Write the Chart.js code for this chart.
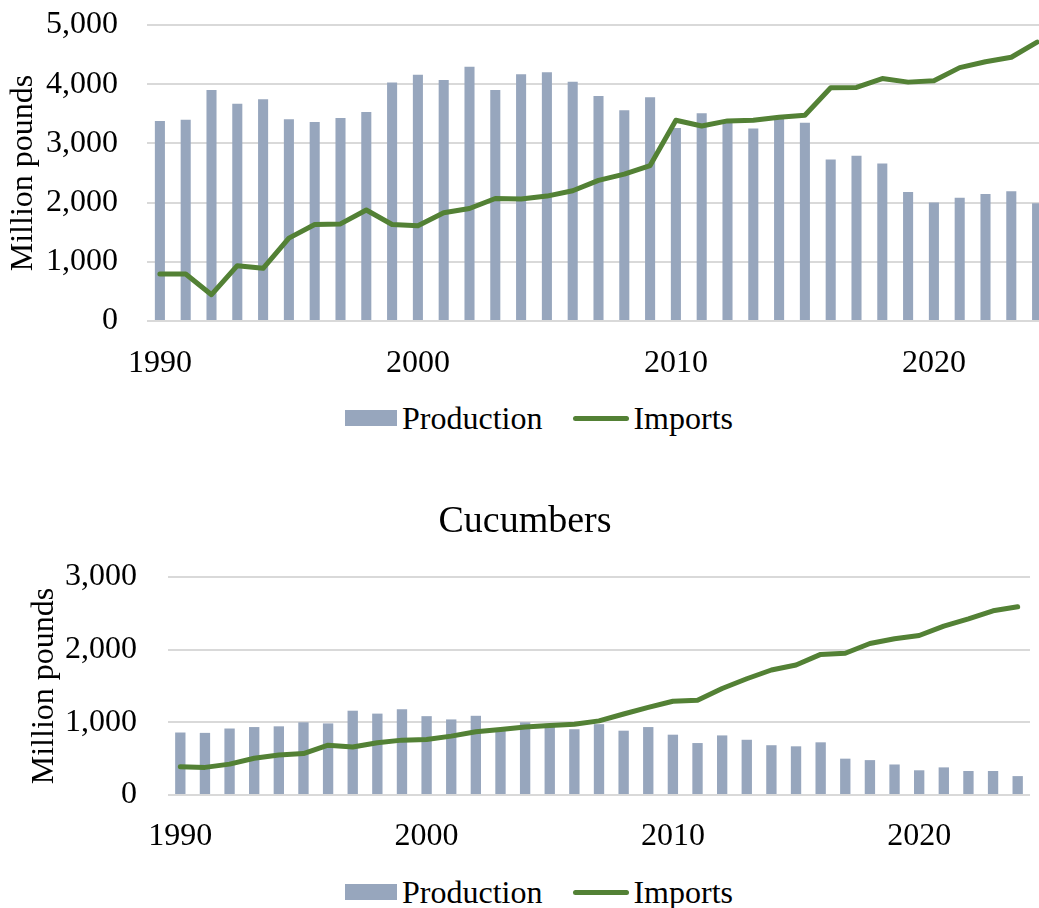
<!DOCTYPE html>
<html>
<head>
<meta charset="utf-8">
<script src="https://cdn.jsdelivr.net/npm/chart.js@4.4.1/dist/chart.umd.min.js"></script>
<style>
  html, body { margin: 0; padding: 0; background: #fff; }
  body { width: 1039px; height: 908px; overflow: hidden; position: relative; }
  #tomatoChart { position: absolute; left: 0; top: 0; }
  #cucumberChart { position: absolute; left: 20px; top: 480px; }
  .legend {
    position: absolute; left: 345px; height: 32px;
    display: flex; align-items: center;
    font-family: "Liberation Serif", "Times New Roman", serif; font-size: 32px; color: #000;
    white-space: nowrap;
  }
  .legend .item { display: flex; align-items: center; }
  .legend .item + .item { margin-left: 31px; }
  .legend .swatch-bar { width: 52px; height: 16px; margin-right: 5px; }
  .legend .swatch-line { width: 56px; height: 5px; border-radius: 3px; margin-right: 4px; }
</style>
</head>
<body>
<canvas id="tomatoChart" width="1060" height="380"></canvas>
<div class="legend" id="tomatoLegend" style="top: 402px;"></div>
<canvas id="cucumberChart" width="1019" height="374"></canvas>
<div class="legend" id="cucumberLegend" style="top: 876px;"></div>

<script>
// Years 1990-2024, million pounds
const years = [];
for (let y = 1990; y <= 2024; y++) years.push(String(y));

const tomatoProduction = [
  3380, 3400, 3900, 3670, 3745, 3410, 3360, 3430, 3530, 4030,
  4160, 4070, 4295, 3900, 4170, 4200, 4040, 3800, 3560, 3780,
  3260, 3510, 3350, 3250, 3420, 3350, 2730, 2790, 2660, 2180,
  2000, 2080, 2145, 2190, 1990
];
const tomatoImports = [
  795, 795, 444, 935, 890, 1400, 1630, 1640, 1875, 1630,
  1610, 1830, 1900, 2070, 2060, 2110, 2200, 2375, 2480, 2625,
  3390, 3295, 3380, 3390, 3440, 3475, 3940, 3945, 4095, 4035,
  4060, 4280, 4380, 4455, 4710
];

const cucumberProduction = [
  860, 855, 915, 935, 945, 1000, 985, 1160, 1120, 1180,
  1085, 1040, 1090, 900, 1000, 980, 905, 975, 885, 935,
  830, 715, 820, 760, 685, 670, 725, 500, 480, 420,
  340, 380, 330, 330, 260
];
const cucumberImports = [
  390, 380, 425, 505, 550, 570, 685, 660, 720, 755,
  765, 810, 870, 900, 935, 955, 975, 1020, 1115, 1205,
  1290, 1305, 1465, 1600, 1720, 1790, 1935, 1950, 2085, 2150,
  2195, 2325, 2425, 2535, 2590
];

const BAR_COLOR = '#97A6BD';
const LINE_COLOR = '#538135';
const GRID_COLOR = '#D9D9D9';
const FONT = '"Liberation Serif", "Times New Roman", serif';

Chart.defaults.font.family = FONT;
Chart.defaults.color = '#000';

function buildChart(canvasId, production, imports, cfg) {
  const ctx = document.getElementById(canvasId).getContext('2d');
  return new Chart(ctx, {
    type: 'bar',
    data: {
      labels: years,
      datasets: [
        {
          type: 'bar',
          label: 'Production',
          data: production,
          backgroundColor: BAR_COLOR,
          barPercentage: 1,
          categoryPercentage: cfg.barFraction,
          order: 2
        },
        {
          type: 'line',
          label: 'Imports',
          data: imports,
          borderColor: LINE_COLOR,
          backgroundColor: LINE_COLOR,
          borderWidth: cfg.lineWidth,
          borderJoinStyle: 'round',
          borderCapStyle: 'round',
          pointRadius: 0,
          tension: 0,
          order: 1
        }
      ]
    },
    options: {
      responsive: false,
      animation: false,
      layout: { padding: cfg.padding },
      plugins: {
        legend: { display: false },
        tooltip: { enabled: false },
        title: cfg.title ? {
          display: true,
          text: cfg.title,
          font: { size: 38, weight: 'normal' },
          color: '#000',
          padding: { top: 19, bottom: 32.4 }
        } : { display: false }
      },
      scales: {
        x: {
          grid: { display: false },
          border: { display: false },
          ticks: {
            autoSkip: false,
            maxRotation: 0,
            padding: cfg.xPad,
            font: { size: 32 },
            callback: function (val, idx) {
              const yr = Number(years[idx]);
              return yr % 10 === 0 ? String(yr) : '';
            }
          },
          afterFit: s => { s.height = cfg.xHeight; }
        },
        y: {
          min: 0,
          max: cfg.yMax,
          border: { display: false },
          grid: { color: GRID_COLOR, lineWidth: 2, drawTicks: false },
          ticks: {
            stepSize: 1000,
            padding: cfg.yPad,
            font: { size: 32 },
            callback: v => v.toLocaleString('en-US')
          },
          title: {
            display: true,
            text: 'Million pounds',
            font: { size: 32 },
            padding: { top: cfg.titlePad, bottom: 0 }
          },
          afterFit: s => {
            s.width = cfg.yWidth;
            // tick padding is horizontal spacing only; keep it out of the top margin
            s.paddingTop = 0;
          }
        }
      }
    }
  });
}

function buildLegend(elId) {
  const el = document.getElementById(elId);
  el.innerHTML =
    '<span class="item"><span class="swatch-bar" style="background:' + BAR_COLOR + '"></span>Production</span>' +
    '<span class="item"><span class="swatch-line" style="background:' + LINE_COLOR + '"></span>Imports</span>';
}

buildChart('tomatoChart', tomatoProduction, tomatoImports, {
  yMax: 5000, yWidth: 147, yPad: 29, xPad: 15, xHeight: 59, titlePad: 4,
  barFraction: 0.39, lineWidth: 5,
  padding: { top: 25, right: 10, left: 0, bottom: 0 }
});
buildLegend('tomatoLegend');

buildChart('cucumberChart', cucumberProduction, cucumberImports, {
  yMax: 3000, yWidth: 148, yPad: 31, xPad: 14, xHeight: 59, titlePad: 5,
  barFraction: 0.42, lineWidth: 5, title: 'Cucumbers',
  padding: { top: 0, right: 9, left: 0, bottom: 0 }
});
buildLegend('cucumberLegend');
</script>
</body>
</html>
